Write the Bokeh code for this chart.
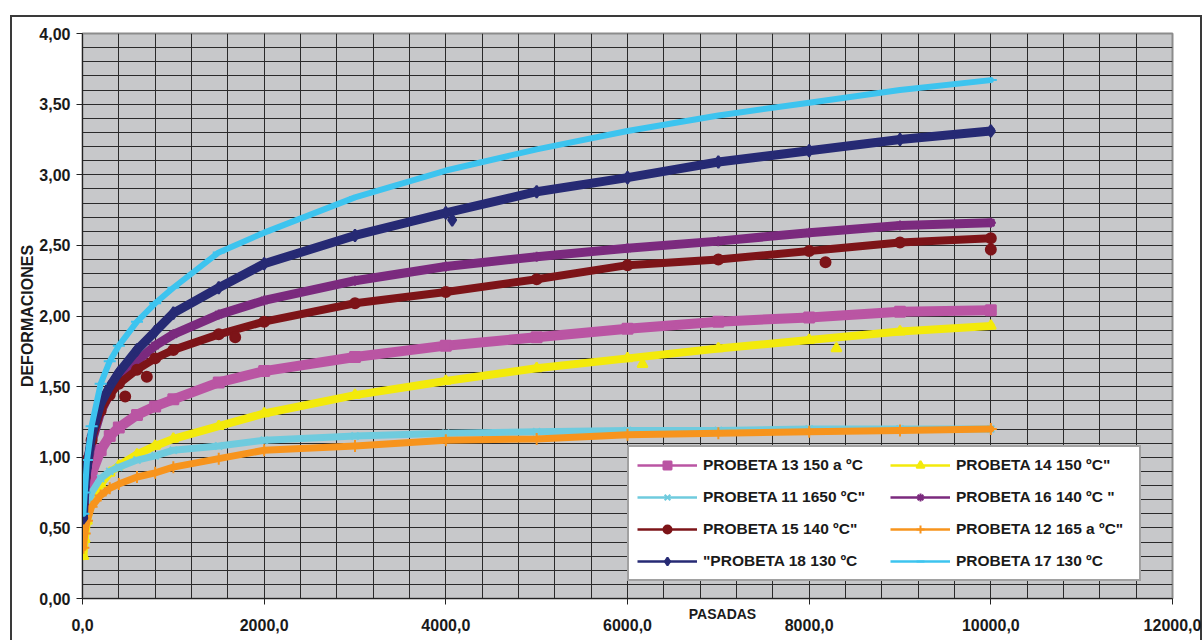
from bokeh.plotting import figure
from bokeh.models import FixedTicker, Legend, LegendItem, Label, Range1d
from bokeh.embed import file_html
from bokeh.resources import INLINE

# ---------------- data ----------------
pasadas = [10, 25, 50, 100, 200, 300, 400, 600, 800, 1000, 1500, 2000,
           3000, 4000, 5000, 6000, 7000, 8000, 9000, 10000]

p13 = [0.53, 0.62, 0.74, 0.88, 1.05, 1.15, 1.21, 1.30, 1.36, 1.41, 1.53, 1.61,
       1.71, 1.79, 1.85, 1.91, 1.96, 1.99, 2.03, 2.04]
p14 = [0.30, 0.42, 0.55, 0.69, 0.81, 0.89, 0.94, 1.02, 1.08, 1.13, 1.22, 1.31,
       1.44, 1.54, 1.63, 1.70, 1.77, 1.83, 1.89, 1.93]
p11 = [0.42, 0.52, 0.62, 0.75, 0.85, 0.90, 0.93, 0.98, 1.01, 1.05, 1.08, 1.12,
       1.15, 1.17, 1.18, 1.19, 1.19, 1.20, 1.20, 1.20]
p16 = [0.55, 0.75, 0.92, 1.10, 1.32, 1.45, 1.54, 1.68, 1.79, 1.87, 2.01, 2.11,
       2.25, 2.35, 2.42, 2.48, 2.53, 2.59, 2.64, 2.66]
p15 = [0.65, 0.86, 0.98, 1.12, 1.33, 1.44, 1.52, 1.62, 1.70, 1.76, 1.87, 1.96,
       2.09, 2.17, 2.26, 2.36, 2.40, 2.46, 2.52, 2.55]
p12 = [0.36, 0.46, 0.55, 0.65, 0.73, 0.78, 0.81, 0.86, 0.89, 0.93, 0.99, 1.05,
       1.08, 1.12, 1.13, 1.16, 1.17, 1.18, 1.19, 1.20]
p18 = [0.57, 0.79, 0.93, 1.15, 1.38, 1.50, 1.60, 1.76, 1.89, 2.02, 2.20, 2.37,
       2.57, 2.73, 2.88, 2.98, 3.09, 3.17, 3.25, 3.31]
p17 = [0.60, 0.75, 0.98, 1.22, 1.52, 1.68, 1.79, 1.96, 2.09, 2.20, 2.45, 2.59,
       2.84, 3.03, 3.18, 3.31, 3.42, 3.51, 3.60, 3.67]

# isolated readings that fall off the main trend
p15_off_x = [470, 708, 1681, 8180, 10000]
p15_off_y = [1.43, 1.57, 1.85, 2.38, 2.47]
p14_off_x = [6165, 8300]
p14_off_y = [1.66, 1.77]
p18_off_x = [4070]
p18_off_y = [2.68]

x_ticks = [0, 2000, 4000, 6000, 8000, 10000, 12000]
x_tick_labels = ["0,0", "2000,0", "4000,0", "6000,0", "8000,0", "10000,0", "12000,0"]
y_ticks = [0.0, 0.5, 1.0, 1.5, 2.0, 2.5, 3.0, 3.5, 4.0]
y_tick_labels = ["0,00", "0,50", "1,00", "1,50", "2,00", "2,50", "3,00", "3,50", "4,00"]
x_minor = list(range(0, 12001, 400))
y_minor = [i / 10 for i in range(41)]

series = {
    "p13": ("PROBETA 13 150 a ºC", p13, "#BA55A3", "square", 10, 10, None),
    "p14": ("PROBETA 14 150 ºC\"", p14, "#F3EA0B", "triangle", 10, 8, (p14_off_x, p14_off_y)),
    "p11": ("PROBETA 11 1650 ºC\"", p11, "#6FCBDE", "x", 10, 7, None),
    "p16": ("PROBETA 16 140 ºC \"", p16, "#7B2A7E", "asterisk", 10, 9, None),
    "p15": ("PROBETA 15 140 ºC\"", p15, "#7D1418", "circle", 10, 8, (p15_off_x, p15_off_y)),
    "p12": ("PROBETA 12 165 a ºC\"", p12, "#F7941D", "cross", 12, 7, None),
    "p18": ("\"PROBETA 18 130 ºC", p18, "#262A74", "diamond", 12, 9, (p18_off_x, p18_off_y)),
    "p17": ("PROBETA 17 130 ºC", p17, "#3DC4EF", "dash", 12, 6, None),
}
draw_order = ["p13", "p14", "p11", "p16", "p15", "p12", "p18", "p17"]
legend_order = ["p13", "p11", "p15", "p18", "p14", "p16", "p12", "p17"]

FONT = "Liberation Sans"

p = figure(width=1203, height=640, output_backend="svg", toolbar_location=None,
           x_range=Range1d(0, 12000), y_range=Range1d(0, 4))
p.min_border_left = 82
p.min_border_top = 33
p.min_border_right = 31
p.min_border_bottom = 42
p.background_fill_color = "#C7C8CA"
p.border_fill_alpha = 0
p.outline_line_color = "#8C8C8C"
p.outline_line_width = 2
# outer chart-area border (drawn by the page behind the transparent canvas)
p.styles = {
    "background-color": "white",
    "background-image": "linear-gradient(#3a3a3a,#3a3a3a), linear-gradient(#3a3a3a,#3a3a3a), linear-gradient(#3a3a3a,#3a3a3a)",
    "background-size": "1192px 2px, 2px 630px, 2px 630px",
    "background-position": "10px 15px, 10px 15px, 1200px 15px",
    "background-repeat": "no-repeat",
}

for ax in (p.xaxis[0], p.yaxis[0]):
    ax.major_label_text_font = FONT
    ax.major_label_text_font_style = "bold"
    ax.major_label_text_font_size = "16px"
    ax.major_label_text_color = "#1a1a1a"
    ax.axis_line_color = "#222222"
    ax.major_tick_line_color = "#222222"
    ax.major_tick_out = 6
    ax.major_tick_in = 0
    ax.minor_tick_out = 0
    ax.minor_tick_in = 0
    ax.axis_label_text_font = FONT
    ax.axis_label_text_font_style = "bold"
    ax.axis_label_text_color = "#1a1a1a"

p.xaxis.ticker = FixedTicker(ticks=x_ticks, minor_ticks=x_minor)
p.yaxis.ticker = FixedTicker(ticks=y_ticks, minor_ticks=y_minor)
p.xaxis.major_label_overrides = dict(zip(x_ticks, x_tick_labels))
p.yaxis.major_label_overrides = dict(zip(y_ticks, y_tick_labels))
p.xaxis.major_label_standoff = 14
p.yaxis.major_label_standoff = 6
p.yaxis.axis_label = "DEFORMACIONES"
p.yaxis.axis_label_text_font_size = "16px"
p.yaxis.axis_label_standoff = 0

for g in (p.xgrid[0], p.ygrid[0]):
    g.grid_line_color = "#2a2a2a"
    g.grid_line_width = 1
    g.minor_grid_line_color = "#2a2a2a"
    g.minor_grid_line_width = 1

legend_renderers = {}
for key in draw_order:
    label, ys, color, marker, msize, bw, off = series[key]
    # dense band formed by the many overlapping markers of the original series
    p.line(pasadas, ys, line_color=color, line_width=bw, line_join="round", line_cap="round")
    thin = p.line(pasadas, ys, line_color=color, line_width=2.5)
    sc = p.scatter(pasadas, ys, marker=marker, size=msize, fill_color=color,
                   line_color=color, line_width=2)
    if off is not None:
        p.scatter(off[0], off[1], marker=marker, size=msize, fill_color=color,
                  line_color=color, line_width=2)
    legend_renderers[key] = (label, [thin, sc])

items = [LegendItem(label=legend_renderers[k][0], renderers=legend_renderers[k][1])
         for k in legend_order]

legend = Legend(items=items, location=(545, 17), ncols=2,
                label_text_font=FONT, label_text_font_style="bold",
                label_text_font_size="15.5px", label_text_color="#1a1a1a",
                glyph_width=60, glyph_height=20, label_height=20, label_width=175,
                label_standoff=6, spacing=12, padding=8, margin=0,
                border_line_color="#444444", border_line_width=2,
                background_fill_color="white", background_fill_alpha=1.0)
p.add_layout(legend, "center")

# x-axis title, placed off-centre as in the original (side panel so it is not clipped)
p.add_layout(Label(x=722, y=613, x_units="canvas", y_units="canvas", text="PASADAS",
                   text_font=FONT, text_font_style="bold", text_font_size="14px",
                   text_color="#1a1a1a", text_align="center", text_baseline="middle"),
             "above")

open("out.html", "w").write(file_html(p, INLINE))
